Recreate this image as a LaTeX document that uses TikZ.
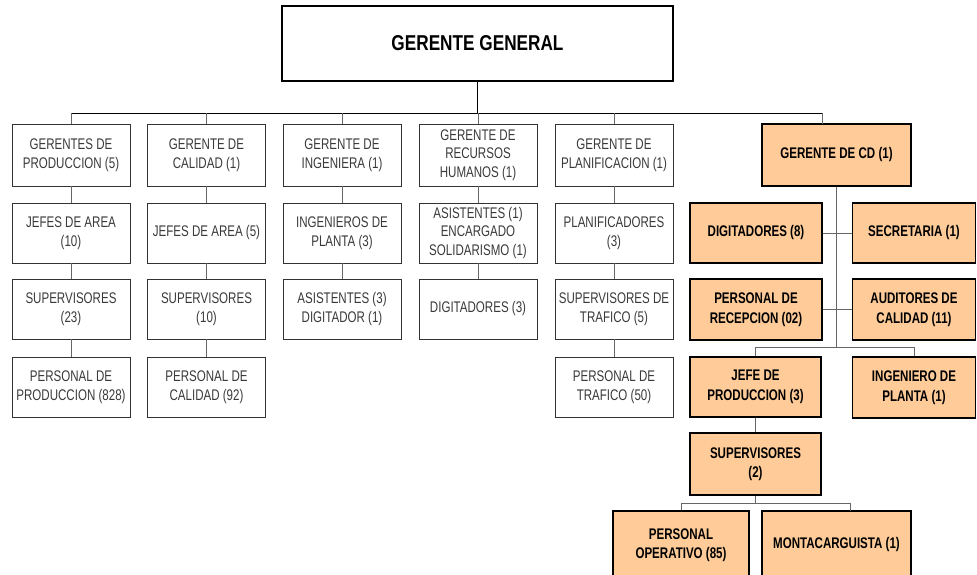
\documentclass[tikz,border=0pt]{standalone}
\usepackage{fontspec}
\setmainfont{Liberation Sans}
\newfontfamily\boxfont[FakeStretch=0.75]{Liberation Sans}
\newfontfamily\titlefont[FakeStretch=0.8]{Liberation Sans}
\definecolor{cdfill}{HTML}{FFCC99}
\definecolor{boxtext}{HTML}{3A3A3A}
\definecolor{linkgray}{HTML}{666666}

\tikzset{
  unit/.style={draw=black!80, line width=0.9pt, fill=white,
    minimum width=118pt, minimum height=60pt, inner sep=0pt,
    align=center, text=boxtext,
    font=\boxfont\fontsize{15.4}{18.5}\selectfont},
  cdunit/.style={draw=black, line width=1.8pt, fill=cdfill, inner sep=0pt,
    align=center, text=black,
    font=\boxfont\bfseries\fontsize{15.4}{19.5}\selectfont},
  topunit/.style={draw=black, line width=1.5pt, fill=white, inner sep=0pt,
    minimum width=391pt, minimum height=75pt,
    font=\titlefont\bfseries\fontsize{21.5}{24}\selectfont},
  link/.style={draw=linkgray, line width=0.9pt},
  mainlink/.style={draw=black, line width=0.9pt},
}

\begin{document}
\begin{tikzpicture}[x=1pt, y=-1pt]
  \useasboundingbox (0,0) rectangle (977,574);
  \fill[white] (0,0) rectangle (977,574);
  \clip (0,0) rectangle (977,574);

  % top of the chart
  \node[topunit] (gg) at (477.5,43.5) {GERENTE GENERAL};

  % production column
  \node[unit, minimum height=62pt] (pro1) at (71,155) {GERENTES DE\\PRODUCCION (5)};
  \node[unit] (pro2) at (71,233) {JEFES DE AREA\\(10)};
  \node[unit] (pro3) at (71,309) {SUPERVISORES\\(23)};
  \node[unit] (pro4) at (71,387) {PERSONAL DE\\PRODUCCION (828)};

  % quality column
  \node[unit, minimum height=62pt] (cal1) at (206.5,155) {GERENTE DE\\CALIDAD (1)};
  \node[unit] (cal2) at (206.5,233) {JEFES DE AREA (5)};
  \node[unit] (cal3) at (206.5,309) {SUPERVISORES\\(10)};
  \node[unit] (cal4) at (206.5,387) {PERSONAL DE\\CALIDAD (92)};

  % engineering column
  \node[unit, minimum height=62pt] (ing1) at (342,155) {GERENTE DE\\INGENIERA (1)};
  \node[unit] (ing2) at (342,233) {INGENIEROS DE\\PLANTA (3)};
  \node[unit] (ing3) at (342,309) {ASISTENTES (3)\\DIGITADOR (1)};

  % human resources column
  \node[unit, minimum height=62pt] (rh1) at (478,155) {GERENTE DE\\RECURSOS\\HUMANOS (1)};
  \node[unit] (rh2) at (478,233) {ASISTENTES (1)\\ENCARGADO\\SOLIDARISMO (1)};
  \node[unit] (rh3) at (478,309) {DIGITADORES (3)};

  % planning column
  \node[unit, minimum height=62pt] (pla1) at (614,155) {GERENTE DE\\PLANIFICACION (1)};
  \node[unit] (pla2) at (614,233) {PLANIFICADORES\\(3)};
  \node[unit] (pla3) at (614,309) {SUPERVISORES DE\\TRAFICO (5)};
  \node[unit] (pla4) at (614,387) {PERSONAL DE\\TRAFICO (50)};

  % distribution centre branch
  \node[cdunit, minimum width=149pt, minimum height=62pt] (cd) at (836.5,155) {GERENTE DE CD (1)};
  \node[cdunit, minimum width=132pt, minimum height=60pt] (dig) at (756,233) {DIGITADORES (8)};
  \node[cdunit, minimum width=123pt, minimum height=60pt] (sec) at (914,233) {SECRETARIA (1)};
  \node[cdunit, minimum width=132pt, minimum height=61pt] (rec) at (756,309.5) {PERSONAL DE\\RECEPCION (02)};
  \node[cdunit, minimum width=123pt, minimum height=61pt] (aud) at (914,309.5) {AUDITORES DE\\CALIDAD (11)};
  \node[cdunit, minimum width=131pt, minimum height=60pt] (jefe) at (755.5,387) {JEFE DE\\PRODUCCION (3)};
  \node[cdunit, minimum width=123pt, minimum height=61pt] (ingp) at (914,387.5) {INGENIERO DE\\PLANTA (1)};
  \node[cdunit, minimum width=131pt, minimum height=62pt] (sup) at (755.5,464) {SUPERVISORES\\(2)};
  \node[cdunit, minimum width=136pt, minimum height=68pt] (ope) at (681,545) {PERSONAL\\OPERATIVO (85)};
  \node[cdunit, minimum width=149pt, minimum height=68pt] (mon) at (836.5,545) {MONTACARGUISTA (1)};

  % bus levels and taps
  \coordinate (busy) at (0,113);
  \coordinate (cdtap) at (822,124);
  \coordinate (jbus) at (0,347);
  \coordinate (sbus) at (0,503);
  \coordinate (montap) at (850,511);

  % general manager to the managers
  \draw[mainlink] (gg.south) -- (gg.south |- busy);
  \draw[mainlink] (pro1.north |- busy) -- (cdtap |- busy);
  \foreach \n in {pro1,cal1,ing1,rh1,pla1}
    \draw[link] (\n.north) -- (\n.north |- busy);
  \draw[link] (cdtap) -- (cdtap |- busy);

  % column chains
  \draw[link] (pro1) -- (pro2) (pro2) -- (pro3) (pro3) -- (pro4);
  \draw[link] (cal1) -- (cal2) (cal2) -- (cal3) (cal3) -- (cal4);
  \draw[link] (ing1) -- (ing2) (ing2) -- (ing3);
  \draw[link] (rh1) -- (rh2) (rh2) -- (rh3);
  \draw[link] (pla1) -- (pla2) (pla2) -- (pla3) (pla3) -- (pla4);

  % distribution centre links
  \draw[link] (cd.south) -- (cd.south |- jbus);
  \draw[link] (dig) -- (sec);
  \draw[link] (rec) -- (aud);
  \draw[link] (jefe.north) -- (jefe.north |- jbus) -- (ingp.north |- jbus) -- (ingp.north);
  \draw[link] (jefe) -- (sup);
  \draw[link] (sup.south) -- (sup.south |- sbus);
  \draw[link] (ope.north) -- (ope.north |- sbus) -- (montap |- sbus) -- (montap);
\end{tikzpicture}
\end{document}
